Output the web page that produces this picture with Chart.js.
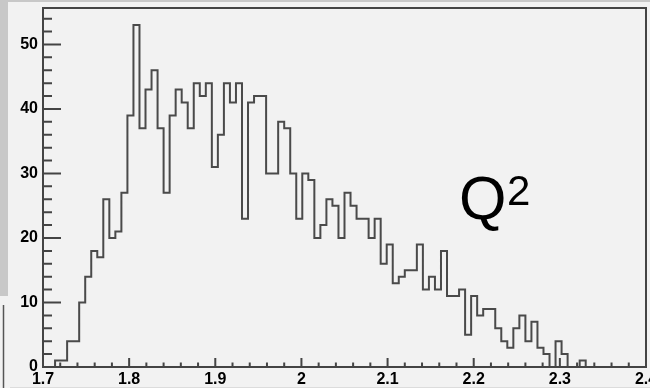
<!DOCTYPE html>
<html>
<head>
    <meta charset="utf-8">
    <title>Q2 histogram</title>
    <style type="text/css">
        html, body {
            margin: 0;
            padding: 0;
            background: #f2f2f2;
        }
    </style>
    <script src="https://cdn.jsdelivr.net/npm/chart.js@4.4.1/dist/chart.umd.min.js"></script>
</head>
<body>
    <canvas id="histCanvas" width="650" height="388"></canvas>

    <script>
        // histogram binning: 100 bins from 1.7 to 2.4
        var binLow = 1.7;
        var binWidth = 0.007;
        var counts = [
            0, 0, 0, 1, 1, 4, 4, 10, 14, 18,
            17, 26, 20, 21, 27, 39, 53, 37, 43, 46,
            37, 27, 39, 43, 41, 37, 44, 42, 44, 31,
            36, 44, 41, 44, 23, 41, 42, 42, 30, 30,
            38, 37, 30, 23, 30, 29, 20, 22, 26, 25,
            20, 27, 25, 23, 23, 20, 23, 16, 19, 13,
            14, 15, 15, 19, 12, 14, 12, 18, 11, 11,
            12, 5, 11, 8, 9, 9, 6, 4, 3, 6,
            8, 4, 7, 3, 2, 0, 4, 2, 0, 0,
            1, 0, 0, 0, 0, 0, 0, 0, 0, 0
        ];
        var xTicks = [1.7, 1.8, 1.9, 2.0, 2.1, 2.2, 2.3, 2.4];
        var yTicks = [0, 10, 20, 30, 40, 50];
        var xMin = 1.7, xMax = 2.4;
        var yMax = 55.65; // ROOT: 1.05 * max bin

        // step points at the low edge of every bin, plus the last high edge
        var points = [];
        for (var i = 0; i < counts.length; i++) {
            points.push({ x: binLow + i * binWidth, y: counts[i] });
        }
        points.push({ x: binLow + counts.length * binWidth, y: counts[counts.length - 1] });

        var labelFont = { family: '"Liberation Sans", Arial, sans-serif', size: 16, weight: 'bold' };

        function noPad(scale) {
            scale.paddingLeft = 0;
            scale.paddingRight = 0;
            scale.paddingTop = 0;
            scale.paddingBottom = 0;
        }

        // ROOT look: grey window edges, frame, inside ticks, Q^2 label
        var rootStyle = {
            id: 'rootStyle',
            beforeDraw: function (chart) {
                var ctx = chart.ctx;
                ctx.save();
                ctx.fillStyle = '#f2f2f2';
                ctx.fillRect(0, 0, chart.width, chart.height);
                ctx.fillStyle = '#c8c8c8';
                ctx.fillRect(0, 0, chart.width, 2);
                ctx.fillRect(0, 0, 8, 296);
                ctx.strokeStyle = '#555555';
                ctx.lineWidth = 1.5;
                ctx.beginPath();
                ctx.moveTo(3.5, 305);
                ctx.lineTo(3.5, chart.height);
                ctx.stroke();
                ctx.strokeStyle = '#dcdcdc';
                ctx.lineWidth = 1;
                ctx.beginPath();
                ctx.moveTo(10, 387.5);
                ctx.lineTo(chart.width, 387.5);
                ctx.stroke();
                ctx.restore();
            },
            afterDraw: function (chart) {
                var ctx = chart.ctx;
                var a = chart.chartArea;
                var xs = chart.scales.x, ys = chart.scales.y;
                ctx.save();
                ctx.strokeStyle = '#444444';
                ctx.lineWidth = 2;
                ctx.strokeRect(a.left, a.top, a.right - a.left, a.bottom - a.top);

                ctx.beginPath();
                for (var k = 0; k <= 35; k++) {
                    var px = xs.getPixelForValue(xMin + k * 0.02);
                    var len = (k % 5 === 0) ? 9 : 4.5;
                    ctx.moveTo(px, a.bottom);
                    ctx.lineTo(px, a.bottom - len);
                }
                for (var j = 0; j <= 27; j++) {
                    var py = ys.getPixelForValue(j * 2);
                    var l = (j % 5 === 0) ? 18 : 9;
                    ctx.moveTo(a.left, py);
                    ctx.lineTo(a.left + l, py);
                }
                ctx.stroke();

                ctx.fillStyle = '#000000';
                ctx.textBaseline = 'alphabetic';
                ctx.textAlign = 'left';
                ctx.font = '61px "Liberation Sans", Arial, sans-serif';
                ctx.fillText('Q', 459, 219);
                ctx.font = '42px "Liberation Sans", Arial, sans-serif';
                ctx.fillText('2', 507, 205);
                ctx.restore();
            }
        };

        var histChart = new Chart(document.getElementById('histCanvas'), {
            type: 'line',
            data: {
                datasets: [
                    {
                        label: 'Q2',
                        data: points,
                        stepped: 'after',
                        borderColor: '#4a4a4a',
                        borderWidth: 2,
                        pointRadius: 0,
                        fill: false
                    }
                ]
            },
            options: {
                responsive: false,
                animation: false,
                layout: {
                    autoPadding: false,
                    padding: { top: 8, right: 4, left: 0, bottom: 0 }
                },
                plugins: {
                    legend: { display: false },
                    tooltip: { enabled: false }
                },
                scales: {
                    x: {
                        type: 'linear',
                        min: xMin,
                        max: xMax,
                        grid: { display: false, drawTicks: false },
                        border: { display: false },
                        afterBuildTicks: function (scale) {
                            scale.ticks = xTicks.map(function (v) { return { value: v }; });
                        },
                        afterFit: function (scale) { scale.height = 21; noPad(scale); },
                        ticks: {
                            autoSkip: false,
                            maxRotation: 0,
                            padding: 3,
                            color: '#000000',
                            font: labelFont,
                            callback: function (value) { return String(value); }
                        }
                    },
                    y: {
                        min: 0,
                        max: yMax,
                        grid: { display: false, drawTicks: false },
                        border: { display: false },
                        afterBuildTicks: function (scale) {
                            scale.ticks = yTicks.map(function (v) { return { value: v }; });
                        },
                        afterFit: function (scale) { scale.width = 43; noPad(scale); },
                        ticks: {
                            autoSkip: false,
                            padding: 5,
                            color: '#000000',
                            font: labelFont,
                            callback: function (value) { return String(value); }
                        }
                    }
                }
            },
            plugins: [rootStyle]
        });
    </script>
</body>
</html>
